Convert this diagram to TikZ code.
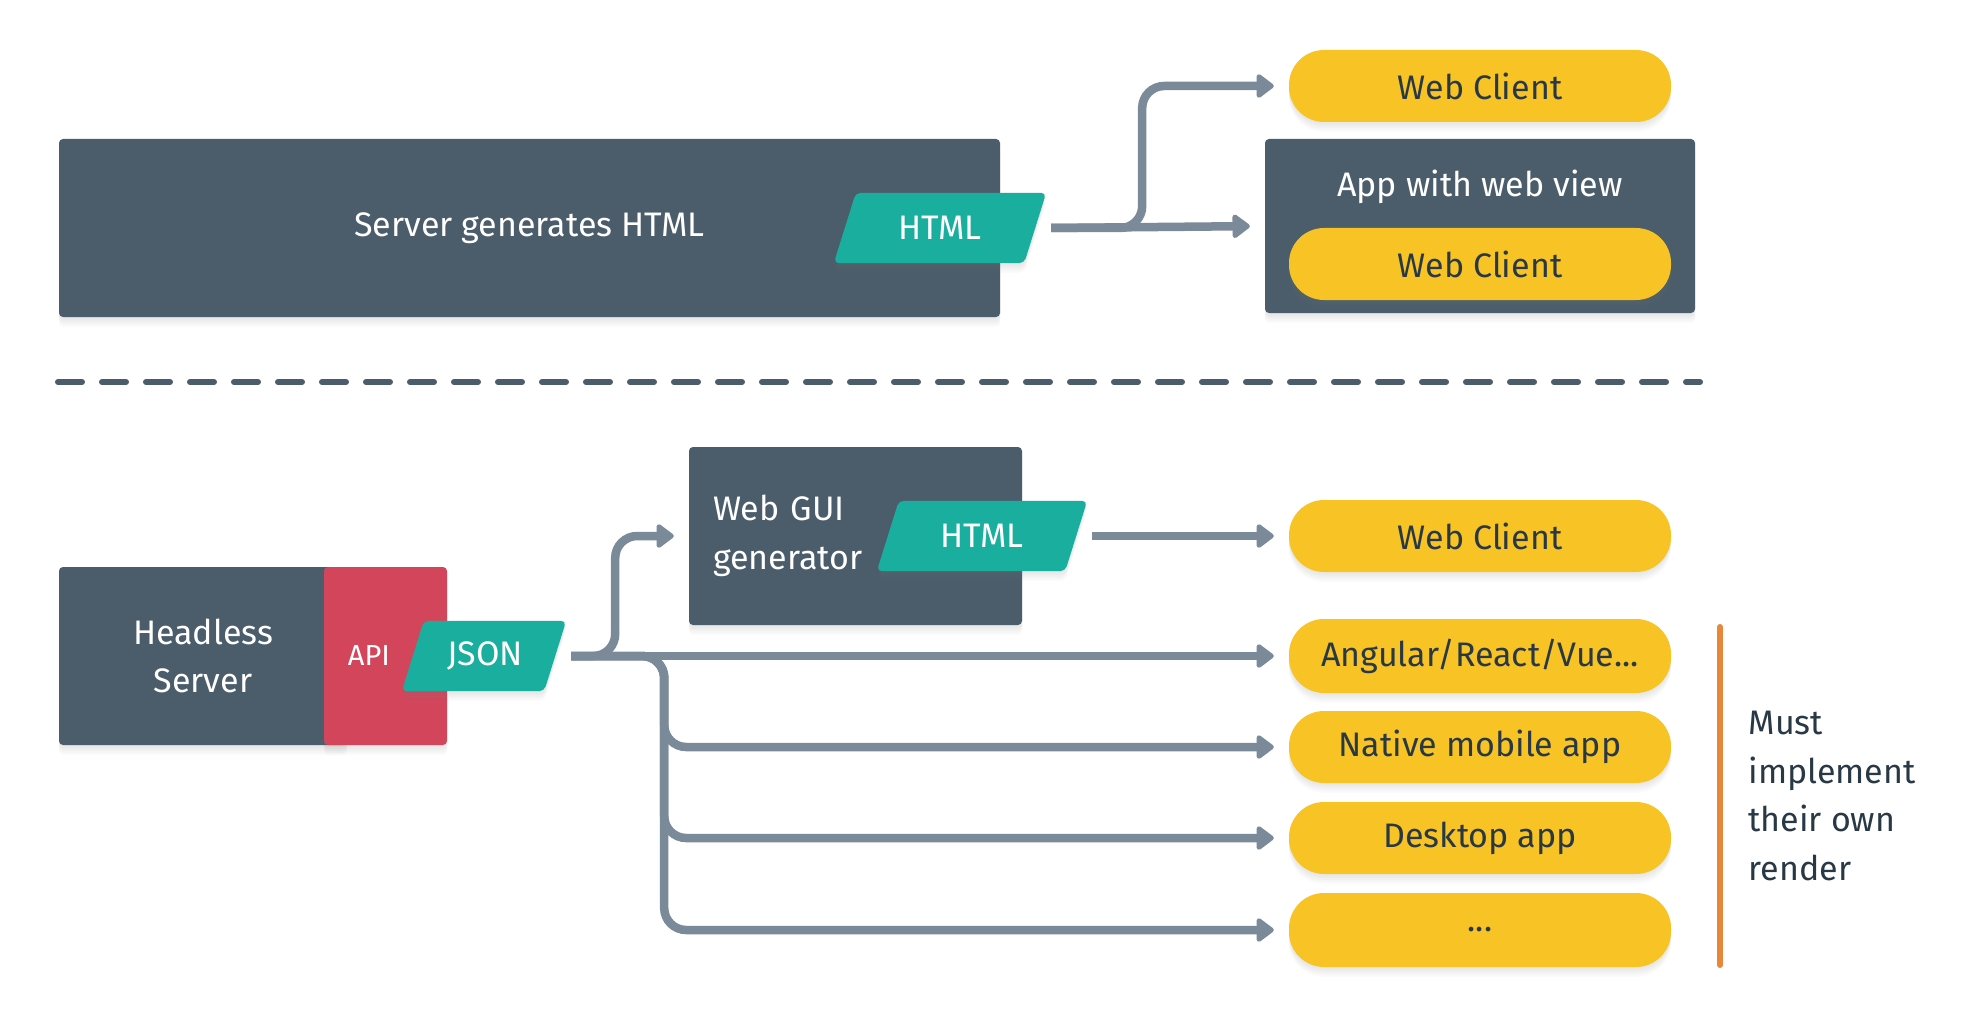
\documentclass[tikz,border=0pt]{standalone}
\usepackage{fontspec}
\setmainfont{Fira Sans}
\usetikzlibrary{arrows.meta,shadows}
\definecolor{boxdark}{HTML}{4B5C6B}
\definecolor{pillyellow}{HTML}{F7C325}
\definecolor{tealc}{HTML}{1AAE9F}
\definecolor{apired}{HTML}{D3455B}
\definecolor{arrowgrey}{HTML}{7B8A99}
\definecolor{orangec}{HTML}{E8873A}
\definecolor{textdark}{HTML}{283845}
\begin{document}
\begin{tikzpicture}[x=1pt,y=-1pt,
  mainfont/.style={font=\fontsize{34}{48.5}\selectfont},
  softshadow/.style={
    drop shadow={opacity=0.035, shadow xshift=0pt, shadow yshift=-2pt},
    drop shadow={opacity=0.035, shadow xshift=0pt, shadow yshift=-4pt},
    drop shadow={opacity=0.035, shadow xshift=0pt, shadow yshift=-6pt},
    drop shadow={opacity=0.035, shadow xshift=0pt, shadow yshift=-8pt},
    drop shadow={opacity=0.03, shadow xshift=0pt, shadow yshift=-10pt}},
  darkbox/.style={fill=boxdark, rounded corners=4pt, text=white, mainfont, inner sep=0pt, softshadow},
  pill/.style={fill=pillyellow, rounded corners=35pt, minimum width=382pt, minimum height=72pt,
    inner sep=0pt, text=textdark, mainfont, softshadow},
  tagbox/.style={minimum width=212pt, minimum height=70pt, inner sep=0pt, text=white, mainfont},
  flow/.style={draw=arrowgrey, line width=8.5pt, rounded corners=22pt,
    -{Triangle[width=27pt,length=19pt,round]}, shorten >=15pt},
]
\useasboundingbox[fill=white] (0,0) rectangle (1964,1024);

% ---------- top part ----------
\node[darkbox, minimum width=941pt, minimum height=178pt] (server) at (529.5,228) {Server generates HTML};
\node[tagbox] (html1) at (940,228) {};
\fill[tealc, rounded corners=5pt, softshadow]
  (html1.south west) -- ([xshift=22pt]html1.north west) -- (html1.north east) -- ([xshift=-22pt]html1.south east) -- cycle;
\node[text=white, mainfont] (html1txt) at (html1.center) {HTML};

\node[pill] (wc1) at (1480,86) {Web Client};
\node[darkbox, minimum width=430pt, minimum height=174pt] (appbox) at (1480,226) {};
\node[text=white, mainfont] (apptitle) at (1480,187) {App with web view};
\node[pill] (wc2) at (1480,264) {Web Client};

\draw[flow] ([xshift=5pt]html1.east) -- (appbox.west);
\draw[flow] ([xshift=5pt]html1.east) -- ++(91,0) |- (wc1.west);

% ---------- separator ----------
\draw[boxdark, line width=6pt, line cap=round, dash pattern=on 24pt off 20pt] (58,382) -- (1700,382);

% ---------- bottom part ----------
\node[darkbox, minimum width=288pt, minimum height=178pt, align=center] (hs) at (203,656) {Headless\\Server};
\node[fill=apired, rounded corners=4pt, minimum width=123pt, minimum height=178pt, inner sep=0pt, softshadow] (api) at (385.5,656) {};
\node[text=white, font=\fontsize{29}{32}\selectfont] (apitxt) at (369,656) {API};
\node[tagbox, minimum width=164pt] (json) at (484,656) {};
\fill[tealc, rounded corners=5pt, softshadow]
  (json.south west) -- ([xshift=22pt]json.north west) -- (json.north east) -- ([xshift=-22pt]json.south east) -- cycle;
\node[text=white, mainfont] (jsontxt) at ([xshift=1pt]json.center) {JSON};

\node[darkbox, minimum width=333pt, minimum height=178pt, text width=285pt, align=left] (webgui) at (855.5,536) {Web GUI\\generator};
\node[tagbox, minimum width=210pt] (html2) at (982,536) {};
\fill[tealc, rounded corners=5pt, softshadow]
  (html2.south west) -- ([xshift=22pt]html2.north west) -- (html2.north east) -- ([xshift=-22pt]html2.south east) -- cycle;
\node[text=white, mainfont] (html2txt) at (html2.center) {HTML};

\node[pill] (wc3) at (1480,536) {Web Client};
\node[pill, minimum height=74pt] (ang) at (1480,656) {Angular/React/Vue...};
\node[pill] (native) at (1480,747) {Native mobile app};
\node[pill] (desk) at (1480,838) {Desktop app};
\node[pill, minimum height=74pt] (more) at (1480,930) {...};

\draw[flow] ([xshift=5pt]html2.east) -- (wc3.west);
\draw[flow] ([xshift=5pt]json.east) -- (ang.west);
\draw[flow] ([xshift=5pt]json.east) -- ++(44,0) |- (webgui.west);
\draw[flow] ([xshift=5pt]json.east) -- ++(93,0) |- (native.west);
\draw[flow] ([xshift=5pt]json.east) -- ++(93,0) |- (desk.west);
\draw[flow] ([xshift=5pt]json.east) -- ++(93,0) |- (more.west);

\coordinate (otop) at (1720,627);
\coordinate (obot) at (1720,965);
\draw[orangec, line width=6pt, line cap=round] (otop) -- (obot);
\node[anchor=west, align=left, text=textdark, mainfont] (note) at (1745,796) {Must\\implement\\their own\\render};
\end{tikzpicture}
\end{document}
